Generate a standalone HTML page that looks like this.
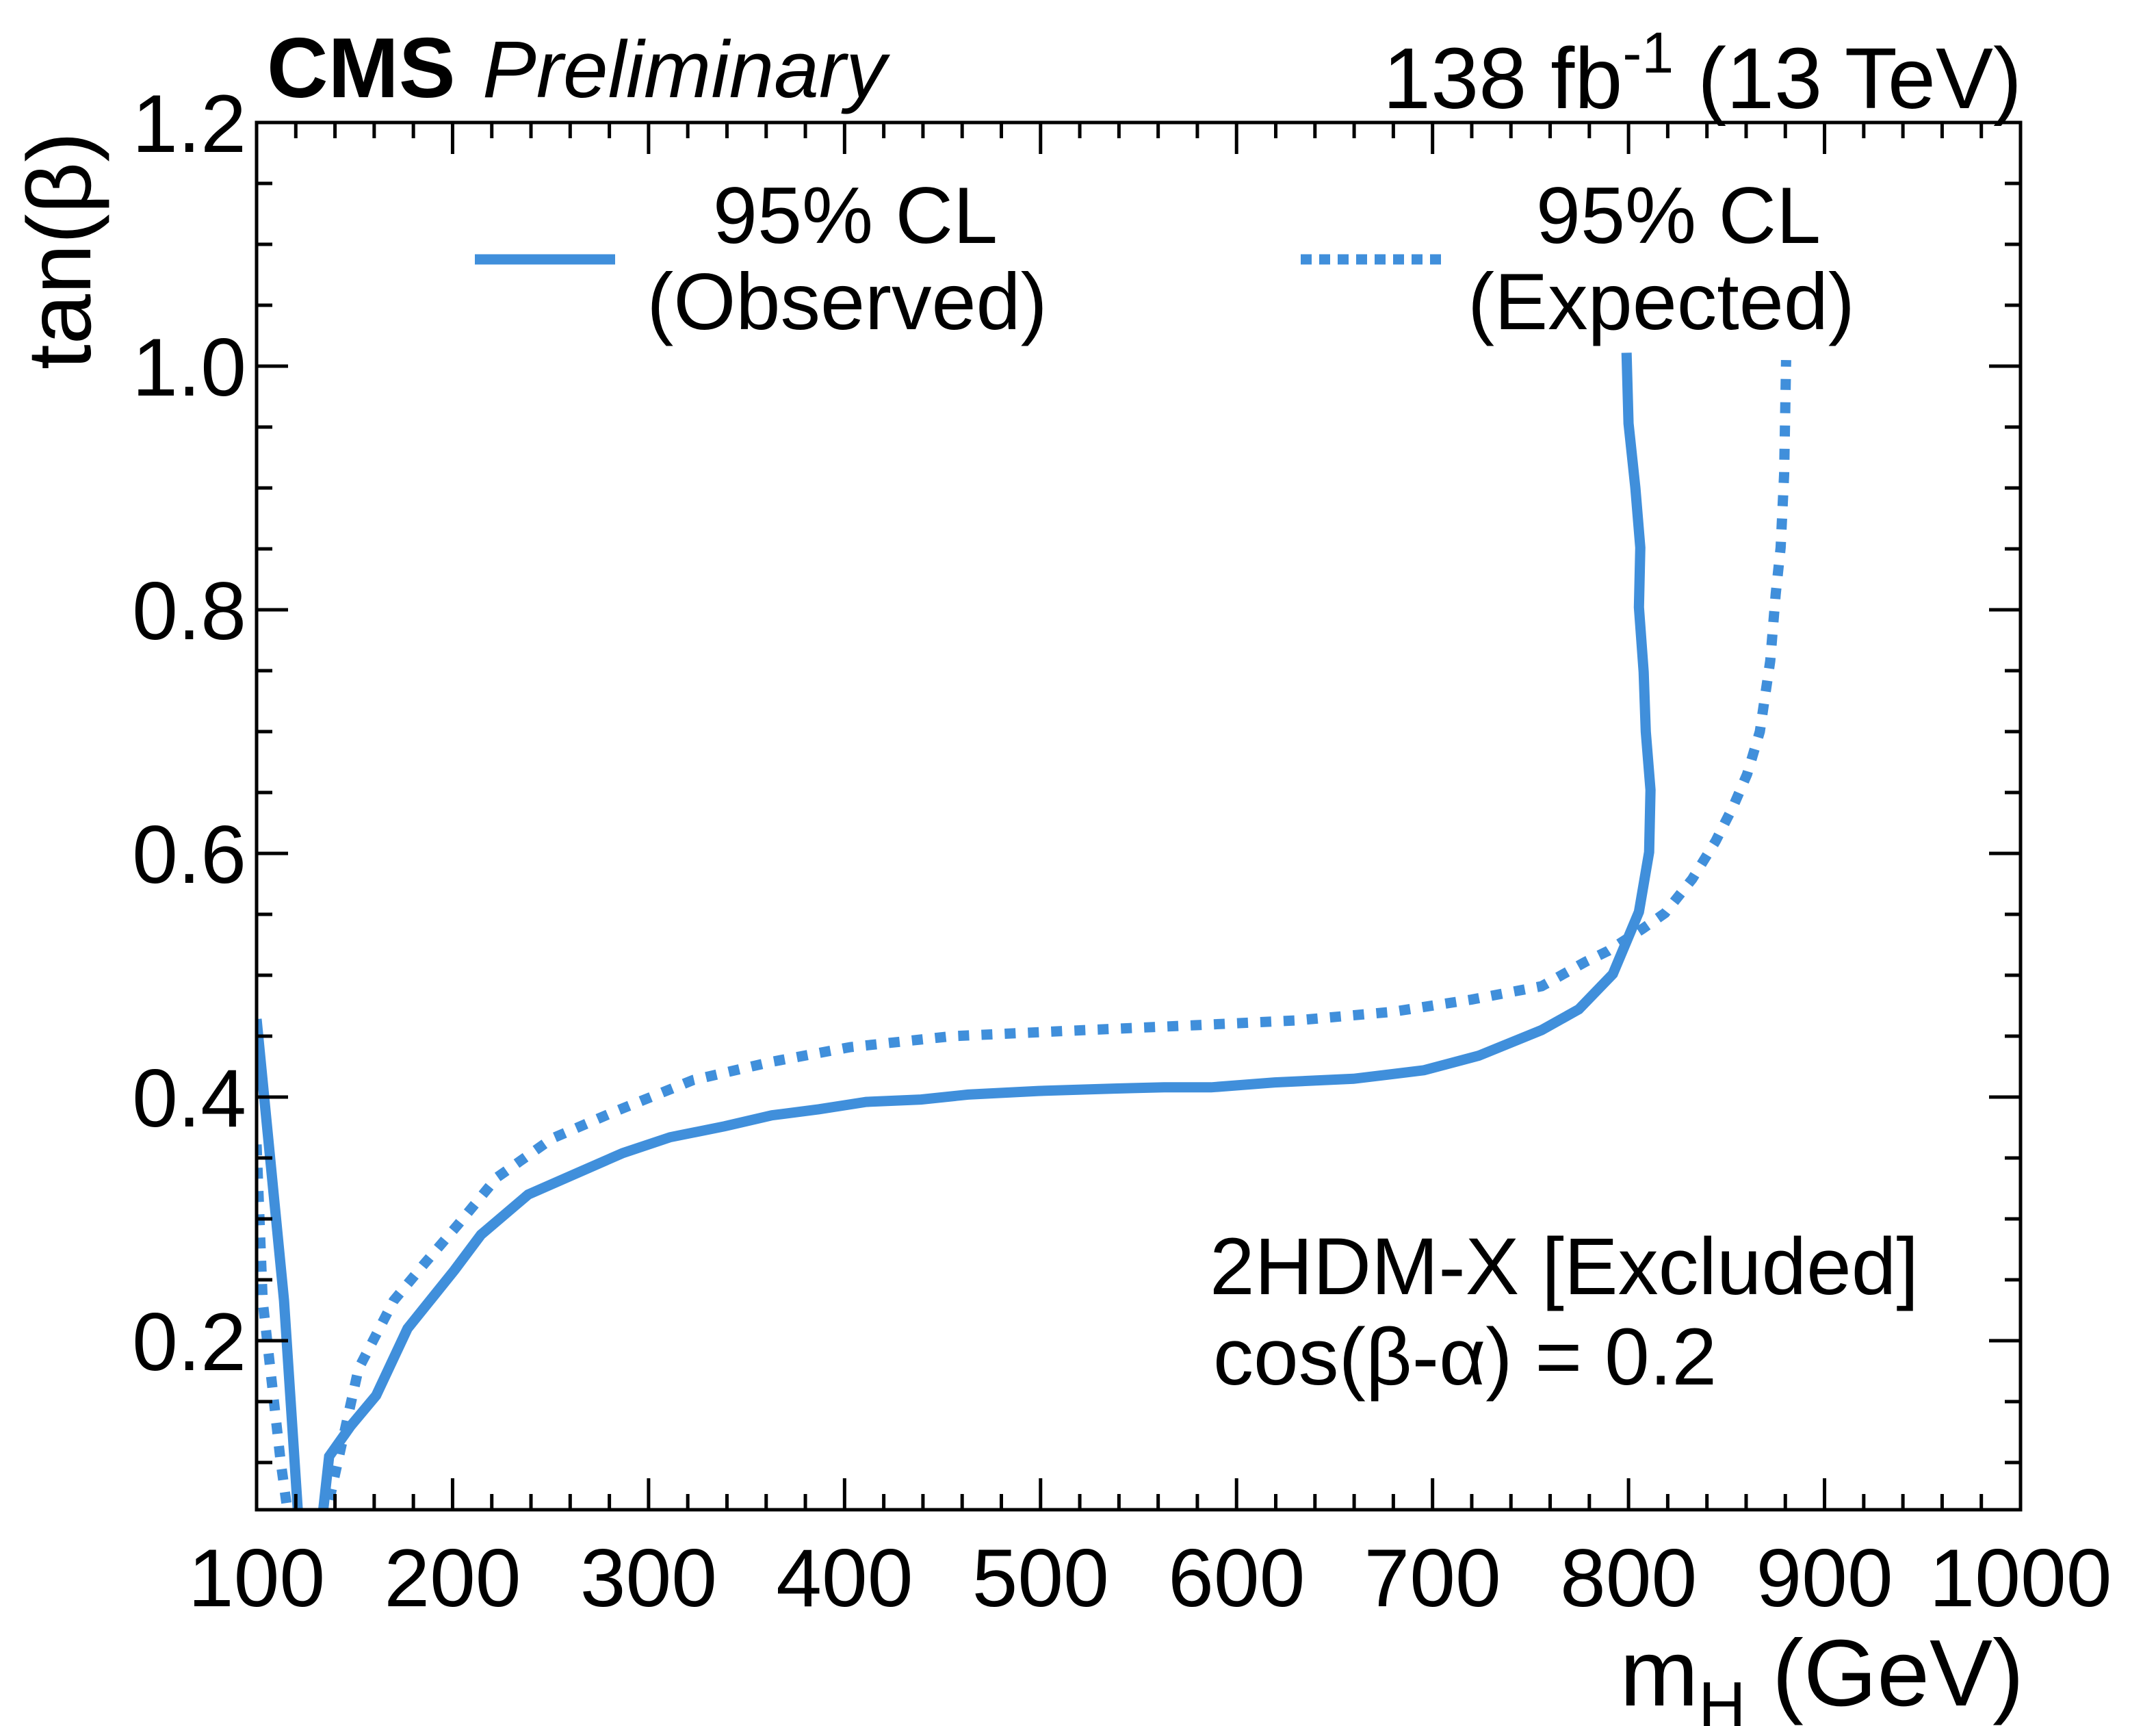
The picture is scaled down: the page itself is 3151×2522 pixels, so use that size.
<!DOCTYPE html>
<html><head><meta charset="utf-8"><style>
html,body{margin:0;padding:0;background:#fff;}
svg{display:block;font-family:"Liberation Sans",sans-serif;}
</style></head><body>
<svg id="chart" width="3151" height="2522" viewBox="0 0 3151 2522" xmlns="http://www.w3.org/2000/svg">
<defs><clipPath id="plotclip"><rect x="375" y="179" width="2578" height="2027"/></clipPath></defs>
<g id="marks" clip-path="url(#plotclip)"></g>
<g id="axes"></g>
<text x="390" y="142" font-size="124" font-weight="bold">CMS</text>
<text x="705" y="142" font-size="118" font-style="italic">Preliminary</text>
<text x="2955" y="158" font-size="126" text-anchor="end">138 fb<tspan dy="-52" font-size="84">-1</tspan><tspan dy="52"> (13 TeV)</tspan></text>
<text transform="translate(132,540) rotate(-90)" font-size="132" text-anchor="start">tan(β)</text>
<text x="2958" y="2492" font-size="138" text-anchor="end">m<tspan dy="32" font-size="96">H</tspan><tspan dy="-32"> (GeV)</tspan></text>
<g>
<line x1="694" y1="379" x2="899" y2="379" stroke="#408fdb" stroke-width="15"/>
<text x="1250" y="355" font-size="117" text-anchor="middle">95% CL</text>
<text x="1238" y="481" font-size="117" text-anchor="middle">(Observed)</text>
<line x1="1901" y1="379" x2="2110" y2="379" stroke="#408fdb" stroke-width="15" stroke-dasharray="16 11"/>
<text x="2453" y="355" font-size="117" text-anchor="middle">95% CL</text>
<text x="2428" y="481" font-size="117" text-anchor="middle">(Expected)</text>
</g>
<text x="1768" y="1891" font-size="118">2HDM-X [Excluded]</text>
<text x="1773" y="2023" font-size="118">cos(β-α) = 0.2</text>
</svg>
<script>
const obsMass = [100,114,121,123,132,134,137,148,161,177,201,214.5,238.6,262.7,286.8,311,338.8,362.9,387,411,439,463,499,539,563,587,619.5,659.7,695.7,723.6,755.7,774.6,792,805.3,810.5,811.2,808.8,807.7,805.3,806,803.5,800,799];
const obsTan = [0.464,0.233,0.061,0.03,0.03,0.061,0.105,0.13,0.155,0.21,0.258,0.287,0.32,0.337,0.354,0.367,0.376,0.385,0.39,0.396,0.398,0.402,0.405,0.407,0.408,0.408,0.412,0.415,0.422,0.434,0.455,0.472,0.501,0.552,0.601,0.652,0.70,0.749,0.802,0.851,0.9,0.953,1.011];
const expMass = [100,103.1,112.2,115.7,117,135,136,143,152,170,185,202.6,222.6,250.8,282.6,322.8,362.9,403,455,523,579,631,679.6,719.8,755.7,778,789.6,807,818.6,832.5,844.4,853.5,860.5,867,872.3,875.1,877.6,879.4,880.4];
const expTan = [0.361,0.233,0.102,0.061,0.03,0.03,0.061,0.112,0.177,0.233,0.262,0.295,0.334,0.366,0.388,0.414,0.429,0.441,0.450,0.455,0.459,0.463,0.47,0.48,0.491,0.511,0.52,0.538,0.551,0.579,0.61,0.639,0.665,0.70,0.758,0.813,0.851,0.911,1.005];
const xTickLabels = [100,200,300,400,500,600,700,800,900,1000];
const yTickLabels = ["0.2","0.4","0.6","0.8","1.0","1.2"];

const X0=375,X1=2953,Y0=2206,Y1=179,XMIN=100,XMAX=1000,YMAX=1.2,YPU=1780;
function xs(v){return X0+(v-XMIN)/(XMAX-XMIN)*(X1-X0);}
function ys(v){return Y1+(YMAX-v)*YPU;}
const NS="http://www.w3.org/2000/svg";
const marks=document.getElementById('marks');
const axes=document.getElementById('axes');
function mk(tag,attrs,parent){const e=document.createElementNS(NS,tag);for(const k in attrs)e.setAttribute(k,attrs[k]);parent.appendChild(e);return e;}
function pts(mx,ty){return mx.map((m,i)=>xs(m).toFixed(1)+','+ys(ty[i]).toFixed(1)).join(' ');}
const obs=mk('polyline',{points:pts(obsMass,obsTan),fill:'none',stroke:'#408fdb','stroke-width':15,'stroke-linejoin':'miter'},marks);


const exp=mk('polyline',{points:pts(expMass,expTan),fill:'none',stroke:'#408fdb','stroke-width':15,'stroke-dasharray':'16 18'},marks);


const frame=mk('rect',{x:X0,y:Y1,width:X1-X0,height:Y0-Y1,fill:'none',stroke:'#000','stroke-width':5},axes);


let d='';
for(let m=XMIN;m<=XMAX+0.01;m+=20){const x=xs(m);const L=(Math.round(m)%100===0)?46:23;d+=`M${x},${Y0}v${-L}M${x},${Y1}v${L}`;}
for(let v=0.1;v<=YMAX+0.001;v+=0.05){const y=ys(v);const maj=Math.abs(v*5-Math.round(v*5))<0.001;const L=maj?46:23;d+=`M${X0},${y}h${L}M${X1},${y}h${-L}`;}
const tk=mk('path',{d:d,stroke:'#000','stroke-width':5,fill:'none'},axes);


xTickLabels.forEach(v=>{const t=mk('text',{x:xs(v),y:2347,'font-size':120,'text-anchor':'middle'},axes);t.textContent=v;

});
yTickLabels.forEach(s=>{const t=mk('text',{x:360,y:ys(parseFloat(s))+43,'font-size':120,'text-anchor':'end'},axes);t.textContent=s;

});
</script>
</body></html>
